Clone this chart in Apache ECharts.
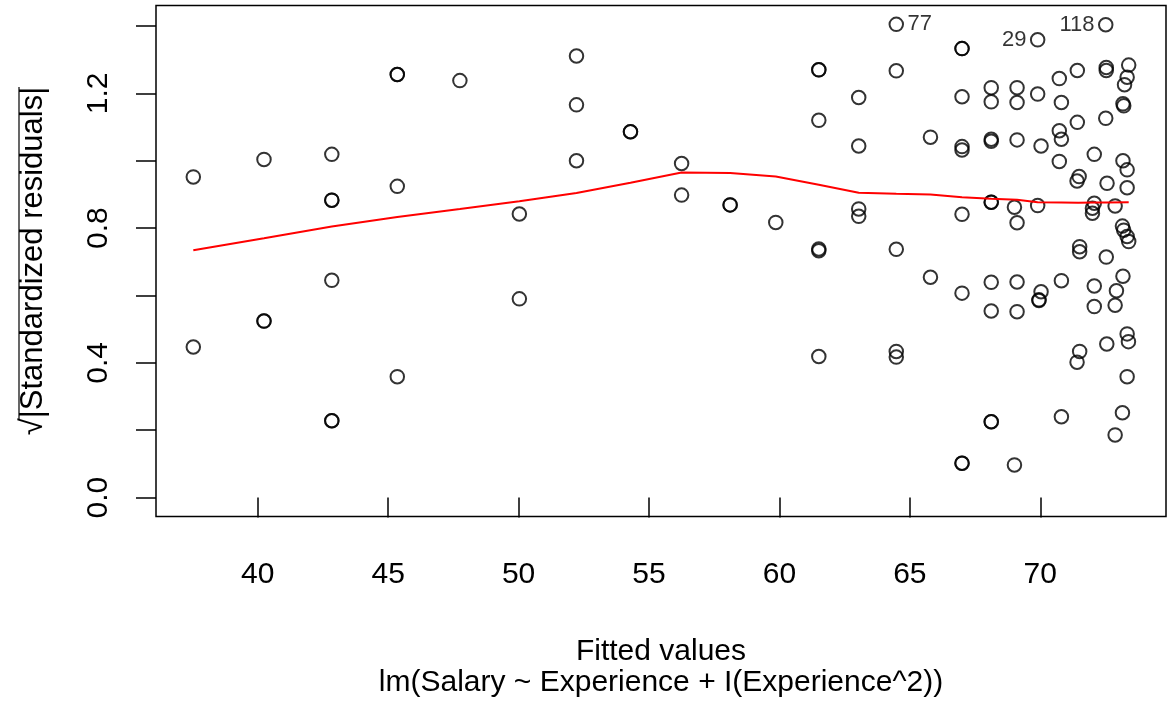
<!DOCTYPE html>
<html>
<head>
<meta charset="utf-8">
<title>Scale-Location</title>
<script src="https://cdn.jsdelivr.net/npm/echarts@6/dist/echarts.min.js"></script>
<style>
  html, body { margin: 0; padding: 0; background: #fff; }
  #chart { width: 1172px; height: 719px; }
</style>
</head>
<body>
<div id="chart"></div>
<script>
// fitted values and sqrt(|standardized residuals|)
const fitted = [
  37.53, 37.53,
  40.24, 40.24, 40.24,
  42.84, 42.84, 42.84, 42.84, 42.84, 42.84,
  45.35, 45.35, 45.35, 45.35,
  47.75,
  50.03, 50.03,
  52.22, 52.22, 52.22,
  54.29, 54.29,
  56.25, 56.25,
  58.11, 58.11,
  59.86,
  61.51, 61.51, 61.51, 61.51, 61.51, 61.51,
  63.04, 63.04, 63.04, 63.04,
  64.48, 64.48, 64.48, 64.48, 64.48,
  65.79, 65.79,
  67.00, 67.00, 67.00, 67.00, 67.00, 67.00, 67.00, 67.00, 67.00,
  68.12, 68.12, 68.12, 68.12, 68.12, 68.12, 68.12, 68.12, 68.12, 68.12,
  69.11, 69.11, 69.11, 69.11, 69.11, 69.11, 69.01, 69.01,
  69.90, 69.90, 69.90, 70.03, 70.03, 69.95, 69.95,
  70.73, 70.81, 70.73, 70.81, 70.73, 70.81, 70.81,
  71.42, 71.42, 71.49, 71.41, 71.51, 71.51, 71.51, 71.41,
  72.07, 72.07, 72.00, 72.00, 72.07, 72.07,
  72.51, 72.53, 72.53, 72.51, 72.56, 72.53, 72.55,
  72.87, 72.92, 72.87, 72.87,
  73.39, 73.33, 73.23, 73.17, 73.20, 73.17, 73.33, 73.33, 73.15,
  73.20, 73.33, 73.39, 73.17, 73.33, 73.38, 73.33, 73.15
];
const sqrtStdRes = [
  0.952, 0.447,
  1.004, 0.524, 0.524,
  1.019, 0.883, 0.883, 0.645, 0.228, 0.228,
  1.256, 1.256, 0.924, 0.359,
  1.238,
  0.842, 0.590,
  1.311, 1.166, 1.000,
  1.086, 1.086,
  0.992, 0.898,
  0.869, 0.869,
  0.817,
  1.270, 1.270, 1.120, 0.733, 0.738, 0.419,
  1.188, 1.044, 0.857, 0.835,
  1.405, 1.267, 0.737, 0.434, 0.417,
  1.070, 0.654,
  1.333, 1.333, 1.190, 1.042, 1.032, 0.841, 0.607, 0.102, 0.102,
  1.217, 1.175, 1.064, 1.058, 0.877, 0.877, 0.639, 0.554, 0.225, 0.225,
  1.217, 1.173, 1.062, 0.816, 0.640, 0.552, 0.862, 0.097,
  1.359, 1.198, 0.867, 1.044, 0.611, 0.587, 0.585,
  1.244, 1.173, 1.089, 1.064, 0.998, 0.644, 0.240,
  1.268, 1.114, 0.953, 0.940, 0.745, 0.730, 0.434, 0.402,
  1.019, 0.874, 0.859, 0.844, 0.628, 0.567,
  1.404, 1.277, 1.268, 1.126, 0.933, 0.714, 0.456,
  0.866, 0.614, 0.571, 0.186,
  1.284, 1.248, 1.226, 1.169, 1.163, 1.000, 0.973, 0.920, 0.806,
  0.794, 0.775, 0.760, 0.657, 0.486, 0.463, 0.359, 0.252
];

// red smoother
const smoothX = [37.53, 40.24, 42.84, 45.35, 47.75, 50.03, 52.22, 54.29, 56.25, 58.11, 59.86, 61.51,
  63.04, 64.48, 65.79, 67.00, 68.12, 69.11, 69.90, 70.81, 71.45, 72.07, 72.53, 73.39];
const smoothY = [0.734, 0.770, 0.805, 0.833, 0.857, 0.880, 0.904, 0.935, 0.965, 0.964, 0.953, 0.929,
  0.905, 0.902, 0.900, 0.892, 0.887, 0.884, 0.877, 0.876, 0.875, 0.876, 0.876, 0.877];

// labelled observations
const idNames = ['77', '29', '118'];
const idFitted = [64.48, 69.90, 72.51];
const idSqrt = [1.405, 1.359, 1.404];

const xTicks = [40, 45, 50, 55, 60, 65, 70];
const yTicks = [0, 0.2, 0.4, 0.6, 0.8, 1.0, 1.2, 1.4];
const yTickLabels = [0, 0.4, 0.8, 1.2];

const FONT = "'Liberation Sans', Arial, Helvetica, sans-serif";

const chart = echarts.init(document.getElementById('chart'), null, { renderer: 'canvas' });

const option = {
  backgroundColor: '#fff',
  animation: false,
  grid: {
    left: 156, right: 6, top: 5.5, bottom: 202.5,
    show: true, borderColor: '#000', borderWidth: 1.5,
    backgroundColor: 'transparent'
  },
  xAxis: {
    type: 'value',
    min: 36.10, max: 74.82,
    axisLine: { show: false },
    splitLine: { show: false },
    axisTick: {
      show: true, inside: false, length: 20,
      customValues: xTicks,
      lineStyle: { color: '#000', width: 1.5 }
    },
    axisLabel: {
      customValues: xTicks,
      margin: 58.5,
      verticalAlign: 'middle',
      color: '#000', fontSize: 30, fontFamily: FONT
    }
  },
  yAxis: {
    type: 'value',
    min: -0.0562, max: 1.461,
    axisLine: { show: false },
    splitLine: { show: false },
    axisTick: {
      show: true, inside: false, length: 20,
      customValues: yTicks,
      lineStyle: { color: '#000', width: 1.5 }
    },
    axisLabel: {
      customValues: yTickLabels,
      rotate: 90,
      margin: 57,
      align: 'center',
      verticalAlign: 'middle',
      formatter: v => v.toFixed(1),
      color: '#000', fontSize: 30, fontFamily: FONT
    }
  },
  graphic: [
    {
      type: 'text', x: 661, y: 651.5, silent: true,
      style: { text: 'Fitted values', font: '30px ' + FONT, fill: '#000', align: 'center', verticalAlign: 'middle' }
    },
    {
      type: 'text', x: 661, y: 683, silent: true,
      style: { text: 'lm(Salary ~ Experience + I(Experience^2))', font: '30px ' + FONT, fill: '#000', align: 'center', verticalAlign: 'middle' }
    },
    {
      type: 'text', x: 33, y: 261, rotation: Math.PI / 2, silent: true,
      style: { text: '\u221A|Standardized residuals|', font: '31px ' + FONT, fill: '#000', align: 'center', verticalAlign: 'middle' }
    },
    {
      type: 'line', silent: true,
      shape: { x1: 19, y1: 87, x2: 19, y2: 420 },
      style: { stroke: '#000', lineWidth: 1.2 }
    }
  ],
  series: [
    {
      type: 'scatter',
      data: fitted.map((x, i) => [x, sqrtStdRes[i]]),
      symbol: 'circle',
      symbolSize: 13.5,
      itemStyle: { color: 'transparent', borderColor: '#000', borderWidth: 2 },
      emphasis: { disabled: true },
      z: 2
    },
    {
      type: 'line',
      data: smoothX.map((x, i) => [x, smoothY[i]]),
      symbol: 'none',
      lineStyle: { color: '#ff0000', width: 2 },
      emphasis: { disabled: true },
      z: 3
    },
    {
      type: 'scatter',
      data: idNames.map((n, i) => ({
        value: [idFitted[i], idSqrt[i]],
        name: n,
        label: { position: i === 0 ? 'right' : 'left' }
      })),
      symbolSize: 13.5,
      itemStyle: { color: 'transparent', borderColor: 'transparent' },
      label: {
        show: true, formatter: '{b}', distance: 4,
        color: '#000', fontSize: 22, fontFamily: FONT
      },
      emphasis: { disabled: true },
      z: 4
    }
  ]
};

chart.setOption(option);
</script>
</body>
</html>
